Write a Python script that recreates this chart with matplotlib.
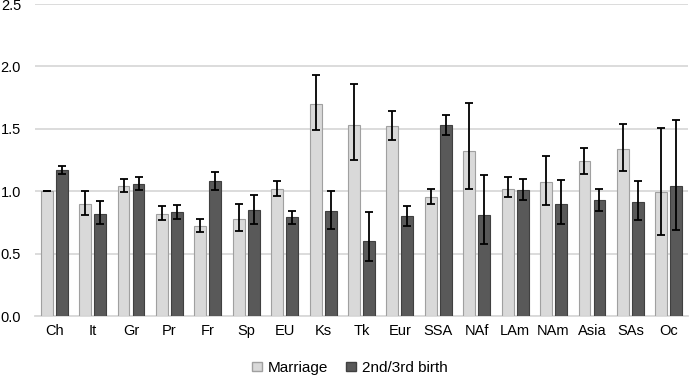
import numpy as np
import matplotlib
matplotlib.use("Agg")
from matplotlib import pyplot as plt
from matplotlib.patches import Patch

plt.rcParams['font.family'] = ['Liberation Sans', 'DejaVu Sans']

groups = ['Ch', 'It', 'Gr', 'Pr', 'Fr', 'Sp', 'EU', 'Ks', 'Tk', 'Eur', 'SSA',
          'NAf', 'LAm', 'NAm', 'Asia', 'SAs', 'Oc']

marriage = [1.00, 0.90, 1.04, 0.82, 0.72, 0.78, 1.02, 1.70, 1.53, 1.52, 0.95,
            1.32, 1.02, 1.07, 1.24, 1.34, 0.99]
marriage_lo = [1.00, 0.81, 0.99, 0.77, 0.67, 0.68, 0.96, 1.49, 1.25, 1.41, 0.90,
               1.02, 0.95, 0.89, 1.14, 1.16, 0.65]
marriage_hi = [1.00, 1.00, 1.10, 0.88, 0.78, 0.90, 1.08, 1.93, 1.86, 1.64, 1.02,
               1.71, 1.11, 1.28, 1.35, 1.54, 1.51]

birth = [1.17, 0.82, 1.06, 0.83, 1.08, 0.85, 0.79, 0.84, 0.60, 0.80, 1.53,
         0.81, 1.01, 0.90, 0.93, 0.91, 1.04]
birth_lo = [1.14, 0.74, 1.01, 0.78, 1.01, 0.74, 0.74, 0.70, 0.44, 0.72, 1.45,
            0.58, 0.93, 0.74, 0.84, 0.77, 0.69]
birth_hi = [1.20, 0.92, 1.11, 0.89, 1.15, 0.97, 0.84, 1.00, 0.83, 0.88, 1.61,
            1.13, 1.10, 1.09, 1.02, 1.08, 1.57]

x = np.arange(len(groups))
w = 0.31
off = 0.195

fig = plt.figure(figsize=(6.9, 3.78), dpi=100)
ax = fig.add_axes([35 / 690, 1 - 316 / 378, 653 / 690, 312 / 378])

m = np.array(marriage)
b = np.array(birth)
m_err = [m - np.array(marriage_lo), np.array(marriage_hi) - m]
b_err = [b - np.array(birth_lo), np.array(birth_hi) - b]

err_kw = dict(ecolor='black', elinewidth=1.3, capsize=3, capthick=1.3)
ax.bar(x - off, m, w, color='#d9d9d9', edgecolor='#a0a0a0', linewidth=0.8,
       yerr=m_err, error_kw=err_kw, zorder=3)
ax.bar(x + off, b, w, color='#595959', edgecolor='#404040', linewidth=0.8,
       yerr=b_err, error_kw=err_kw, zorder=3)

ax.set_xlim(-0.5, len(groups) - 0.5)
ax.set_ylim(0, 2.5)
ax.set_yticks(np.arange(0, 2.51, 0.5))
ax.set_yticklabels(['%.1f' % v for v in np.arange(0, 2.51, 0.5)])
ax.set_xticks(x)
ax.set_xticklabels(groups)
ax.tick_params(axis='both', length=0, labelsize=10.5, colors='black')
ax.tick_params(axis='x', pad=6)
ax.tick_params(axis='y', pad=10)

ax.grid(axis='y', color='#d9d9d9', linewidth=1.3, zorder=0)
ax.set_axisbelow(True)
for s in ['top', 'right', 'left']:
    ax.spines[s].set_visible(False)
ax.spines['bottom'].set_color('#d9d9d9')
ax.spines['bottom'].set_linewidth(1.3)

handles = [Patch(facecolor='#d9d9d9', edgecolor='#a0a0a0', label='Marriage'),
           Patch(facecolor='#595959', edgecolor='#404040', label='2nd/3rd birth')]
fig.legend(handles=handles, loc='center', bbox_to_anchor=(350 / 690, 1 - 368 / 378),
           ncol=2, frameon=False, fontsize=11, handlelength=0.6, handleheight=0.6,
           handletextpad=0.4, columnspacing=1.2)

fig.savefig('out.png', dpi=100)
